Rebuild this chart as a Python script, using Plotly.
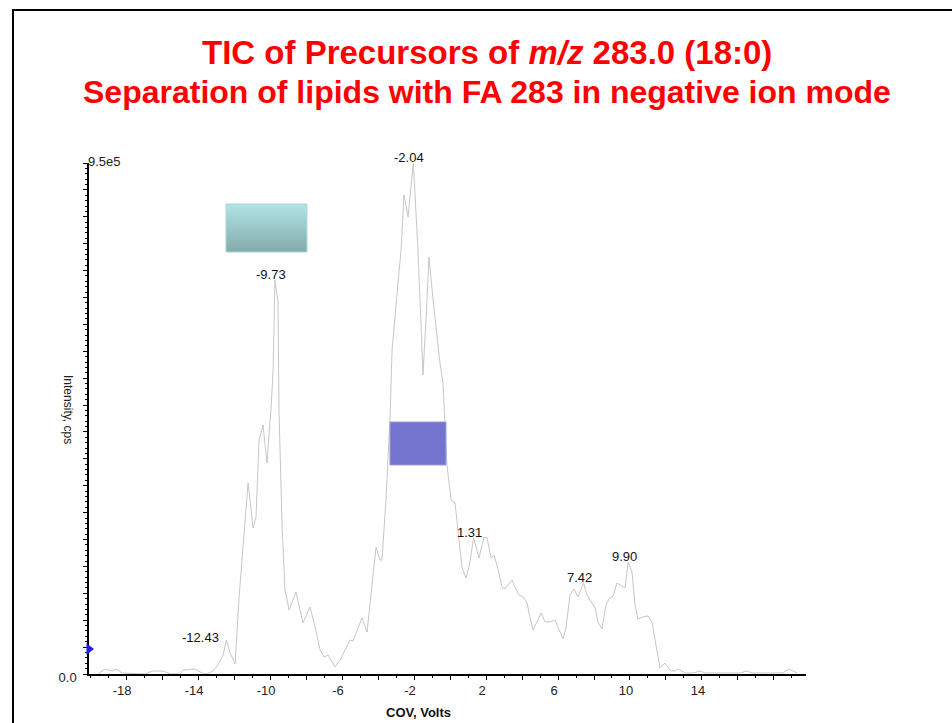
import plotly.graph_objects as go

# ---------------- data ----------------
cov = [
    -19.56, -19.17, -18.78, -18.56, -18.22, -16.94, -16.56, -15.94, -15.56, -15.00,
    -14.83, -14.17, -13.78, -13.50, -13.17, -12.89, -12.61, -12.43, -12.22, -11.94,
    -11.72, -11.50, -11.22, -10.94, -10.78, -10.61, -10.39, -10.17, -9.94, -9.83,
    -9.73, -9.56, -9.50, -9.33, -9.17, -8.94, -8.56, -8.17, -7.78, -7.50,
    -7.22, -7.00, -6.78, -6.39, -6.11, -5.83, -5.56, -5.39, -4.89, -4.61,
    -4.33, -4.11, -3.89, -3.78, -3.56, -3.33, -3.22, -3.11, -2.89, -2.72,
    -2.56, -2.33, -2.04, -1.78, -1.67, -1.50, -1.28, -1.17, -0.94, -0.56,
    -0.39, -0.17, 0.06, 0.28, 0.44, 0.67, 0.89, 1.06, 1.31, 1.61,
    1.89, 2.06, 2.28, 2.44, 2.61, 2.89, 3.06, 3.44, 3.61, 3.83,
    4.06, 4.28, 4.39, 4.61, 4.83, 5.06, 5.28, 5.56, 5.83, 6.00,
    6.28, 6.44, 6.67, 6.89, 7.11, 7.42, 7.61, 7.89, 8.06, 8.22,
    8.44, 8.67, 8.83, 9.06, 9.28, 9.56, 9.72, 9.90, 10.11, 10.28,
    10.44, 10.72, 11.00, 11.22, 11.50, 11.67, 11.94, 12.28, 12.50, 12.67,
    13.06, 13.50, 13.89, 14.17, 16.11, 16.50, 16.78, 18.50, 18.83, 19.28,
]
intensity = [
    0, 9300, 5600, 9300, 1900, 0, 5600, 5600, 0, 0,
    7400, 9300, 1900, 0, 5600, 16700, 35300, 63200, 39000, 18600,
    143200, 243600, 355100, 271400, 291900, 435100, 463000, 392300, 496500, 565300,
    732600, 691700, 485300, 273300, 156200, 118900, 152500, 94800, 124600, 87400,
    44600, 31600, 35300, 13000, 26000, 44600, 63200, 61400, 104100, 78100,
    169200, 236100, 212000, 212000, 323500, 477900, 602500, 639600, 727000, 788400,
    890600, 849600, 950000, 788400, 695400, 556000, 695400, 775200, 695400, 578200,
    541000, 388600, 323500, 318000, 267700, 197100, 178500, 199000, 252900, 215700,
    254700, 252900, 215700, 221200, 202600, 161800, 158000, 174800, 161800, 146900,
    143200, 132000, 113400, 81800, 96700, 113400, 96700, 96700, 100400, 87400,
    65100, 85500, 146900, 158000, 143200, 169200, 146900, 132000, 122700, 96700,
    83700, 128300, 139400, 145000, 169200, 163600, 159900, 208200, 189700, 128300,
    102300, 106000, 107800, 96700, 44600, 11200, 20500, 5600, 5600, 9300,
    1900, 1900, 5600, 1900, 1900, 5600, 1900, 1900, 9300, 1900,
]
peak_cov = [-12.43, -9.73, -2.04, 1.31, 7.42, 9.90]
x_tick_vals = [-18, -16, -14, -12, -10, -8, -6, -4, -2, 0, 2, 4, 6, 8, 10, 12, 14, 16, 18]
x_tick_text = ["-18", "", "-14", "", "-10", "", "-6", "", "-2", "", "2", "", "6", "", "10", "", "14", "", ""]
y_max = 950000
y_top_label = "9.5e5"
y_zero_label = "0.0"

FONT = "Liberation Sans, Arial, Helvetica, sans-serif"

fig = go.Figure()
fig.add_trace(go.Scatter(
    x=cov, y=intensity, mode="lines",
    line=dict(color="#c6c6c6", width=1),
    hoverinfo="x+y", showlegend=False,
))

# small blue marker on the y axis
fig.add_trace(go.Scatter(
    x=[-20.06], y=[46500], mode="markers",
    marker=dict(symbol="triangle-right", size=10, color="#1c1cf0"),
    cliponaxis=False, showlegend=False, hoverinfo="skip",
))

annotations = []
for p in peak_cov:
    idx = min(range(len(cov)), key=lambda i: abs(cov[i] - p))
    if p == peak_cov[0]:
        # first label sits to the left of its peak
        anchor, xs, ys = "right", -5, -7
    else:
        anchor, xs, ys = "center", -4, -4
    annotations.append(dict(
        x=p, y=intensity[idx], xref="x", yref="y",
        text=f"{p:.2f}", showarrow=False,
        xanchor=anchor, yanchor="bottom", xshift=xs, yshift=ys,
        font=dict(family=FONT, size=13, color="#111111"),
    ))

# titles
annotations.append(dict(
    x=0.555, y=1.217, xref="paper", yref="paper", showarrow=False,
    text="<b>TIC of Precursors of <i>m/z</i> 283.0 (18:0)</b>",
    font=dict(family=FONT, size=33, color="#ff0000"), xanchor="center", yanchor="middle",
))
annotations.append(dict(
    x=0.555, y=1.139, xref="paper", yref="paper", showarrow=False,
    text="<b>Separation of lipids with FA 283 in negative ion mode</b>",
    font=dict(family=FONT, size=32, color="#ff0000"), xanchor="center", yanchor="middle",
))
# axis texts
annotations.append(dict(
    x=0.0, y=1.0, xref="paper", yref="paper", showarrow=False,
    text=y_top_label, xanchor="left", yanchor="middle", yshift=2, xshift=-3,
    font=dict(family=FONT, size=13, color="#222222"),
))
annotations.append(dict(
    x=-0.0293, y=0.5166, xref="paper", yref="paper", showarrow=False,
    text="Intensity, cps", textangle=90, xanchor="center", yanchor="middle",
    font=dict(family=FONT, size=12, color="#222222"),
))
annotations.append(dict(
    x=0.460, y=-0.0763, xref="paper", yref="paper", showarrow=False,
    text="<b>COV, Volts</b>", xanchor="center", yanchor="middle",
    font=dict(family=FONT, size=13, color="#111111"),
))

shapes = []
# slide frame
shapes.append(dict(type="rect", xref="paper", yref="paper",
                   x0=-0.106, x1=1.22, y0=-0.12, y1=1.2994,
                   line=dict(color="#000000", width=2), fillcolor="rgba(0,0,0,0)", layer="below"))
# teal gradient box
tx0, tx1, ty0, ty1 = 0.1911, 0.3040, 0.8258, 0.9198
n = 24
top_c = (178, 226, 229)
bot_c = (132, 172, 172)
for i in range(n):
    f = i / (n - 1)
    c = tuple(round(top_c[k] + (bot_c[k] - top_c[k]) * f) for k in range(3))
    ya = ty1 - (ty1 - ty0) * i / n
    yb = ty1 - (ty1 - ty0) * (i + 1) / n
    shapes.append(dict(type="rect", xref="paper", yref="paper",
                       x0=tx0, x1=tx1, y0=yb, y1=ya,
                       line=dict(width=0), fillcolor=f"rgb{c}"))
shapes.append(dict(type="rect", xref="paper", yref="paper",
                   x0=tx0, x1=tx1, y0=ty0, y1=ty1,
                   line=dict(color="#a6d8da", width=1), fillcolor="rgba(0,0,0,0)"))
# purple box
shapes.append(dict(type="rect", xref="paper", yref="paper",
                   x0=0.4198, x1=0.4979, y0=0.4090, y1=0.4932,
                   line=dict(color="#9c9ce2", width=1), fillcolor="#7474cf"))

y_tick_vals = [i * 50000 for i in range(20)]
y_tick_text = [y_zero_label] + [""] * 19

fig.update_layout(
    width=952, height=723,
    margin=dict(l=89, r=146, t=163, b=49),
    paper_bgcolor="white", plot_bgcolor="white",
    font=dict(family=FONT, size=13, color="#222222"),
    showlegend=False,
    annotations=annotations,
    shapes=shapes,
    xaxis=dict(
        range=[-20.06, 19.78], showgrid=False, zeroline=False,
        showline=True, linecolor="#000000", linewidth=1.5,
        ticks="outside", ticklen=4, tickwidth=1, tickcolor="#000000",
        tickmode="array", tickvals=x_tick_vals, ticktext=x_tick_text,
        ticklabelshift=-4,
        tickfont=dict(family=FONT, size=13, color="#222222"),
        minor=dict(ticks="outside", ticklen=2, dtick=1, tick0=0, tickcolor="#000000", showgrid=False),
    ),
    yaxis=dict(
        range=[0, y_max], showgrid=False, zeroline=False,
        showline=True, linecolor="#000000", linewidth=1.5,
        ticks="outside", ticklen=4, tickwidth=1, tickcolor="#000000",
        tickmode="array", tickvals=y_tick_vals, ticktext=y_tick_text,
        ticklabelstandoff=4, ticklabelshift=3, layer="below traces",
        tickfont=dict(family=FONT, size=13, color="#222222"),
        minor=dict(ticks="outside", ticklen=2, dtick=10000, tick0=0, tickcolor="#000000", showgrid=False),
    ),
)

fig.write_html(
    "out.html",
    config={"displayModeBar": False},
    post_script=(
        "document.body.style.margin='0';"
        "document.body.style.overflow='hidden';"
        "document.documentElement.style.overflow='hidden';"
    ),
)
